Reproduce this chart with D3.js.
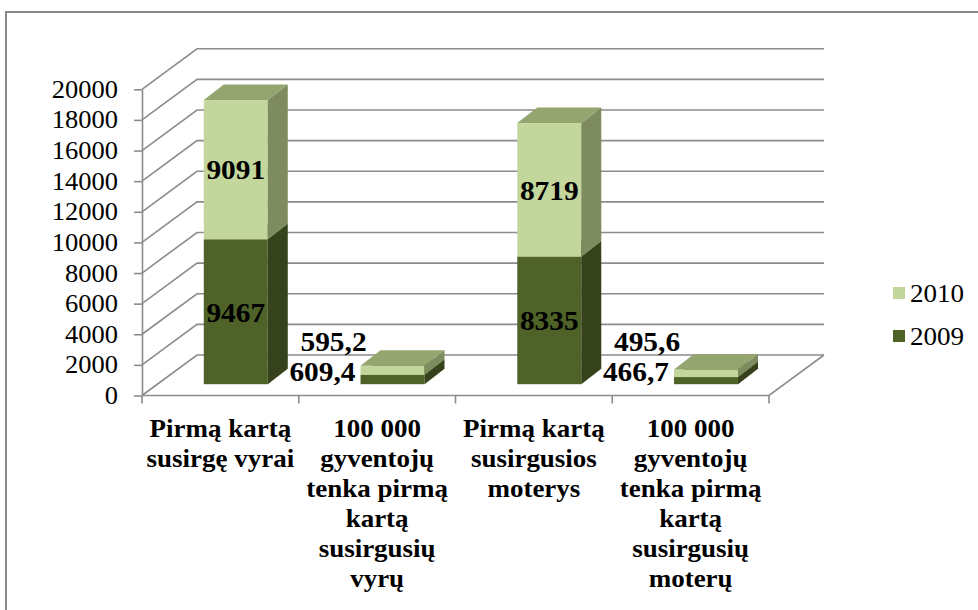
<!DOCTYPE html>
<html>
<head>
<meta charset="utf-8">
<script src="https://cdn.jsdelivr.net/npm/d3@7"></script>
<style>
  html, body { margin: 0; padding: 0; background: #fff; }
  svg { display: block; }
</style>
</head>
<body>
<svg id="chart" width="978" height="610"></svg>
<script>
// ---- data ----
const categories = [
  "Pirmą kartą susirgę vyrai",
  "100 000 gyventojų tenka pirmą kartą susirgusių vyrų",
  "Pirmą kartą susirgusios moterys",
  "100 000 gyventojų tenka pirmą kartą susirgusių moterų"
];
const categoryLines = [
  ["Pirmą kartą", "susirgę vyrai"],
  ["100 000", "gyventojų", "tenka pirmą", "kartą", "susirgusių", "vyrų"],
  ["Pirmą kartą", "susirgusios", "moterys"],
  ["100 000", "gyventojų", "tenka pirmą", "kartą", "susirgusių", "moterų"]
];
const seriesNames = ["2009", "2010"];
const values2009 = [9467, 609.4, 8335, 466.7];
const values2010 = [9091, 595.2, 8719, 495.6];
const yTicks = [0, 2000, 4000, 6000, 8000, 10000, 12000, 14000, 16000, 18000, 20000];

// ---- layout ----
const FONT = "'Liberation Serif', 'Times New Roman', serif";
const svg = d3.select("#chart");
const X0 = 142, X1 = 769;
const Y0 = 395.5, Ytop = 89.3;
const DX = 55, DY = 40.5;          // wall depth
const BX0 = 15.4, BY0 = 11.3;      // bar front offset into depth
const BDX = 20, BDY = 15.5;        // bar depth
const barW = 64;
const gridColor = "#8c8c8c";

const y = d3.scaleLinear().domain([0, 20000]).range([Y0, Ytop]);
const x = d3.scaleBand().domain(categories).range([X0, X1]).padding(0);

const colors = {
  "2009": { front: "#4F6228", side: "#35421B", top: "#5d7030" },
  "2010": { front: "#C3D69B", side: "#7E8B5F", top: "#95A56F" }
};

// helper: horizontally stretched text (reference text is slightly wide)
function stretchedText(parent, px, py, sx) {
  return parent.append("g").attr("transform", `translate(${px},${py}) scale(${sx},1)`)
    .append("text").attr("x", 0).attr("y", 0).attr("font-family", FONT).attr("fill", "#000");
}

// outer frame
svg.append("rect").attr("x", 6).attr("y", 12).attr("width", 1000).attr("height", 700)
  .attr("fill", "#fff").attr("stroke", "#878787").attr("stroke-width", 2);

// back wall gridlines + diagonals
const grid = svg.append("g").attr("fill", "none").attr("stroke", gridColor).attr("stroke-width", 1.6);
yTicks.forEach(v => {
  grid.append("path").attr("d", d3.line()([[X0, y(v)], [X0 + DX, y(v) - DY], [X1 + DX, y(v) - DY]]));
});
grid.append("path").attr("d", d3.line()([[X0, Y0], [X1, Y0], [X1 + DX, Y0 - DY]]));

// y axis
const yAxis = d3.axisLeft(y).tickValues(yTicks).tickSize(8).tickSizeOuter(0).tickPadding(16)
  .tickFormat(d3.format("d"));
const gy = svg.append("g").attr("transform", `translate(${X0},0)`).call(yAxis)
  .attr("font-family", FONT);
gy.select(".domain").attr("stroke", gridColor).attr("stroke-width", 1.6);
gy.selectAll(".tick line").attr("stroke", gridColor).attr("stroke-width", 1.6);
const tickSX = 1.06;
gy.selectAll(".tick text").attr("font-size", 25).attr("fill", "#000").attr("font-family", FONT)
  .attr("x", -24 / tickSX).attr("transform", `scale(${tickSX},1)`);

// x axis boundary ticks
const bounds = categories.map(c => x(c)).concat([X1]);
svg.append("g").selectAll("line").data(bounds).join("line")
  .attr("x1", d => d).attr("x2", d => d).attr("y1", Y0).attr("y2", Y0 + 8)
  .attr("stroke", gridColor).attr("stroke-width", 1.6);

// category labels
const catG = svg.append("g");
categories.forEach((c, i) => {
  const t = stretchedText(catG, x(c) + x.bandwidth() / 2, 437, 1.08)
    .attr("text-anchor", "middle").attr("font-size", 25).attr("font-weight", "bold");
  categoryLines[i].forEach((ln, j) => {
    t.append("tspan").attr("x", 0).attr("y", j * 30).text(ln);
  });
});

// bars
const stacked = categories.map((c, i) => [
  { s: "2009", y0: 0, y1: values2009[i], v: values2009[i] },
  { s: "2010", y0: values2009[i], y1: values2009[i] + values2010[i], v: values2010[i] }
]);
const barsG = svg.append("g");
const fmt = v => String(v).replace(".", ",");
categories.forEach((c, i) => {
  const bx = x(c) + x.bandwidth() / 2 - barW / 2 + BX0;
  stacked[i].forEach(seg => {
    const yb = y(seg.y0) - BY0, yt = y(seg.y1) - BY0;
    const col = colors[seg.s];
    barsG.append("rect").attr("x", bx).attr("y", yt).attr("width", barW).attr("height", yb - yt)
      .attr("fill", col.front);
    barsG.append("path").attr("fill", col.side)
      .attr("d", d3.line()([[bx + barW, yt], [bx + barW + BDX, yt - BDY], [bx + barW + BDX, yb - BDY], [bx + barW, yb]]) + "Z");
    barsG.append("path").attr("fill", col.top)
      .attr("d", d3.line()([[bx, yt], [bx + BDX, yt - BDY], [bx + barW + BDX, yt - BDY], [bx + barW, yt]]) + "Z");
  });
});

// data labels
const labG = svg.append("g");
const labSX = 1.05;
categories.forEach((c, i) => {
  const bx = x(c) + x.bandwidth() / 2 - barW / 2 + BX0;
  const segs = stacked[i];
  const h = y(0) - y(segs[1].y1);
  if (h > 60) {
    segs.forEach(seg => {
      const ym = (y(seg.y0) + y(seg.y1)) / 2 - BY0;
      stretchedText(labG, bx + barW / 2, ym, labSX).attr("dy", "0.35em")
        .attr("font-size", 28).attr("font-weight", "bold")
        .attr("text-anchor", "middle").text(fmt(seg.v));
    });
  } else {
    const yb = y(0) - BY0;
    stretchedText(labG, bx - 5, yb - 3, labSX).attr("font-size", 28).attr("font-weight", "bold")
      .attr("text-anchor", "end").text(fmt(segs[0].v));
    stretchedText(labG, bx - 27, yb - 33, labSX).attr("font-size", 28).attr("font-weight", "bold")
      .attr("text-anchor", "middle").text(fmt(segs[1].v));
  }
});

// legend
const legend = svg.append("g");
const legItems = ["2010", "2009"];
legItems.forEach((s, j) => {
  const cy = 293 + j * 43;
  legend.append("rect").attr("x", 893).attr("y", cy - 6).attr("width", 12).attr("height", 12)
    .attr("fill", colors[s].front);
  stretchedText(legend, 910, cy, 1.04).attr("dy", "0.35em").attr("font-size", 26).text(s);
});
</script>
</body>
</html>
